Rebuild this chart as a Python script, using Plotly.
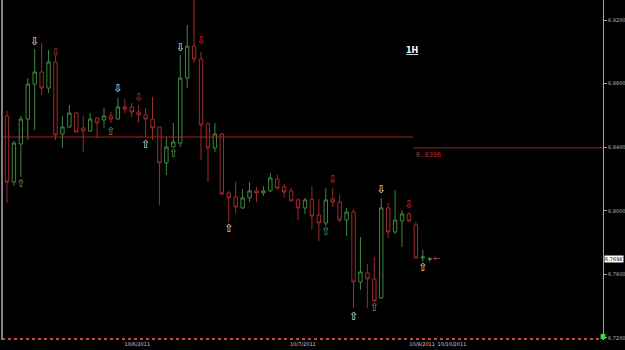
import plotly.graph_objects as go

# ---- data (hourly candles, index 0..61) ----
opens = [6.8596, 6.8181, 6.8420, 6.8577, 6.8797, 6.8873, 6.8772, 6.8936, 6.8483, 6.8527,
         6.8615, 6.8521, 6.8502, 6.8584, 6.8571, 6.8596, 6.8577, 6.8653, 6.8653, 6.8621,
         6.8603, 6.8577, 6.8527, 6.8301, 6.8401, 6.8426, 6.8835, 6.9036, 6.8955, 6.8546,
         6.8395, 6.8483, 6.8112, 6.8087, 6.8018, 6.8081, 6.8125, 6.8112, 6.8125, 6.8200,
         6.8150, 6.8125, 6.8068, 6.8018, 6.8074, 6.7974, 6.7923, 6.8074, 6.8055, 6.7942,
         6.7992, 6.7552, 6.7609, 6.7571, 6.7452, 6.8018, 6.7867, 6.7936, 6.7980, 6.7911,
         6.7703, 6.7694]
highs = [6.8628, 6.8439, 6.8596, 6.8835, 6.9018, 6.9055, 6.9011, 6.8974, 6.8596, 6.8665,
         6.8621, 6.8596, 6.8615, 6.8590, 6.8647, 6.8621, 6.8709, 6.8703, 6.8678, 6.8665,
         6.8647, 6.8716, 6.8527, 6.8464, 6.8552, 6.8980, 6.9169, 6.9389, 6.8999, 6.8558,
         6.8552, 6.8489, 6.8125, 6.8181, 6.8137, 6.8181, 6.8150, 6.8156, 6.8238, 6.8225,
         6.8169, 6.8143, 6.8081, 6.8081, 6.8156, 6.8074, 6.8143, 6.8143, 6.8099, 6.8018,
         6.8011, 6.7835, 6.7665, 6.7709, 6.8081, 6.8049, 6.8131, 6.8005, 6.7992, 6.7930,
         6.7753, 6.7709]
lows = [6.8049, 6.8156, 6.8213, 6.8445, 6.8508, 6.8728, 6.8741, 6.8445, 6.8395, 6.8521,
        6.8496, 6.8370, 6.8496, 6.8458, 6.8521, 6.8552, 6.8571, 6.8615, 6.8590, 6.8552,
        6.8464, 6.8445, 6.8036, 6.8225, 6.8401, 6.8401, 6.8772, 6.8930, 6.8319, 6.8181,
        6.8370, 6.8099, 6.7930, 6.7986, 6.8011, 6.8055, 6.8055, 6.8093, 6.8118, 6.8131,
        6.8081, 6.8062, 6.7942, 6.7980, 6.7879, 6.7810, 6.7904, 6.8024, 6.7930, 6.7842,
        6.7389, 6.7502, 6.7389, 6.7426, 6.7445, 6.7829, 6.7854, 6.7772, 6.7930, 6.7703,
        6.7678, 6.7678]
closes = [6.8181, 6.8426, 6.8577, 6.8797, 6.8873, 6.8772, 6.8936, 6.8477, 6.8527, 6.8615,
          6.8496, 6.8502, 6.8577, 6.8552, 6.8596, 6.8577, 6.8653, 6.8640, 6.8621, 6.8603,
          6.8577, 6.8521, 6.8301, 6.8401, 6.8433, 6.8835, 6.9036, 6.8955, 6.8540, 6.8395,
          6.8483, 6.8106, 6.8081, 6.8024, 6.8081, 6.8125, 6.8112, 6.8125, 6.8206, 6.8143,
          6.8118, 6.8062, 6.8018, 6.8068, 6.7967, 6.7923, 6.8068, 6.8055, 6.7942, 6.7992,
          6.7552, 6.7615, 6.7571, 6.7433, 6.8018, 6.7867, 6.7942, 6.7980, 6.7936, 6.7703,
          6.7709, 6.7698]
bars = list(range(len(opens)))

# signal arrows: (bar index, price)
green_up_idx = [2, 15, 24, 46, 53]
green_up_px = [6.8169, 6.8496, 6.8357, 6.7867, 6.7389]
white_down_idx = [4, 16, 25, 54]
white_down_px = [6.9062, 6.8766, 6.9024, 6.8131]
white_up_idx = [20, 32, 50, 60]
white_up_px = [6.8414, 6.7886, 6.7332, 6.7640]
red_down_idx = [7, 19, 28, 47, 58]
red_down_px = [6.8992, 6.8709, 6.9068, 6.8194, 6.8036]

# horizontal levels
level1_x = [-0.72, 58.6]
level1_y = [6.8464, 6.8464]
level2_x = [58.6, 86.0]
level2_y = [6.8396, 6.8396]
level2_label = "6.8396"
last_price = 6.7698

# axes
y_ticks = [6.92, 6.88, 6.84, 6.80, 6.76, 6.72]
y_ticktext = ["6.9200", "6.8800", "6.8400", "6.8000", "6.7600", "6.7200"]
x_tickvals = [18.8, 42.7, 59.9, 64.2]
x_ticktext = ["10/6/2011", "10/7/2011", "10/9/2011", "10/10/2011"]

GREEN = "#3d8a3d"
RED = "#a02a2a"
WHITE = "#e6e6e6"

fig = go.Figure()
fig.add_trace(go.Scatter(x=level1_x, y=level1_y, mode="lines",
                         line=dict(color="#b02020", width=1), hoverinfo="skip"))
fig.add_trace(go.Scatter(x=level2_x, y=level2_y, mode="lines",
                         line=dict(color="#a02020", width=1), hoverinfo="skip"))
fig.add_trace(go.Candlestick(
    x=bars, open=opens, high=highs, low=lows, close=closes,
    increasing=dict(line=dict(color=GREEN, width=1), fillcolor="black"),
    decreasing=dict(line=dict(color=RED, width=1), fillcolor="black"),
    whiskerwidth=0, hoverinfo="skip"))

arrow_font = "DejaVu Sans"
def arrow_text(xs, ys, glyph, color, size=11):
    return go.Scatter(x=xs, y=ys, mode="text", text=[glyph] * len(xs), hoverinfo="skip",
                      textfont=dict(color=color, size=size, family=arrow_font))

fig.add_trace(arrow_text(green_up_idx, green_up_px, "⇧", "#5aaa5a"))
fig.add_trace(arrow_text(white_up_idx, white_up_px, "⇧", WHITE))
fig.add_trace(arrow_text(white_down_idx, white_down_px, "⇩", WHITE))
fig.add_trace(arrow_text(red_down_idx, red_down_px, "⇩", "#c03a3a"))
fig.add_trace(arrow_text([62.0], [last_price], "←", "#c03a3a", size=9))

fig.update_layout(
    width=625, height=350,
    margin=dict(l=2, r=22, t=0, b=10),
    paper_bgcolor="black", plot_bgcolor="black",
    showlegend=False,
    xaxis=dict(range=[-0.72, 86.0], showgrid=False, zeroline=False, showline=False,
               rangeslider=dict(visible=False), tickvals=x_tickvals, ticktext=x_ticktext,
               ticks="", tickfont=dict(color="#cccccc", size=5, family="DejaVu Sans"),
               fixedrange=True),
    yaxis=dict(range=[6.7187, 6.9326], side="right", showgrid=False, zeroline=False,
               showline=True, linecolor="#a0a0a0", linewidth=1,
               tickvals=y_ticks, ticktext=y_ticktext, ticks="outside", ticklen=3,
               tickcolor="#a0a0a0", tickfont=dict(color="#bbbbbb", size=5, family="DejaVu Sans"),
               automargin=False),
    annotations=[
        dict(x=58.4, y=6.9006, xref="x", yref="y", text="<b><u>1H</u></b>", showarrow=False,
             font=dict(color="white", size=8, family="DejaVu Sans")),
        dict(x=58.8, y=level2_y[0], xref="x", yref="y", text=level2_label, showarrow=False,
             xanchor="left", yanchor="top", yshift=-1,
             font=dict(color="#b03030", size=7, family="DejaVu Sans Mono")),
        dict(x=1.0, y=last_price, xref="paper", yref="y", text=f"{last_price:.4f}", showarrow=False,
             xanchor="left", xshift=1, bgcolor="white", borderpad=0,
             font=dict(color="black", size=5, family="DejaVu Sans")),
    ],
    shapes=[
        dict(type="line", xref="paper", yref="paper", x0=0, x1=1, y0=0.003, y1=0.003,
             line=dict(color="#c04848", width=2, dash="dot")),
        dict(type="line", xref="paper", yref="paper", x0=0, x1=0, y0=0, y1=1,
             line=dict(color="#808080", width=2)),
        dict(type="rect", xref="paper", yref="paper", x0=0.996, x1=1.004, y0=0.003, y1=0.018,
             fillcolor="#30e030", line=dict(width=0)),
    ],
)

fig.write_html("out.html")
